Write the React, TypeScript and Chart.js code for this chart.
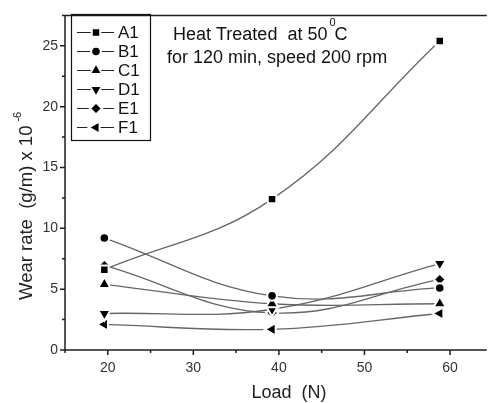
import React, { useEffect, useRef } from 'react';
import { Chart, registerables } from 'chart.js';
import { drawPoint } from 'chart.js/helpers';

Chart.register(...registerables);

// ---- data ----
const loads = [19.6, 39.2, 58.8];
const seriesNames = ['A1', 'B1', 'C1', 'D1', 'E1', 'F1'];
const A1 = [6.6, 12.4, 25.4];
const B1 = [9.2, 4.45, 5.1];
const C1 = [5.4, 3.8, 3.8];
const D1 = [3.0, 3.35, 7.1];
const E1 = [6.95, 3.05, 5.8];
const F1 = [2.1, 1.7, 3.0];
const seriesValues = [A1, B1, C1, D1, E1, F1];

const xTicks = [20, 30, 40, 50, 60];
const xMinorTicks = [15, 25, 35, 45, 55];
const yTicks = [0, 5, 10, 15, 20, 25];
const yMinorTicks = [2.5, 7.5, 12.5, 17.5, 22.5, 27.5];

const markers = [
  { pointStyle: 'rect', rotation: 0, radius: 5 },
  { pointStyle: 'circle', rotation: 0, radius: 3.8 },
  { pointStyle: 'triangle', rotation: 0, radius: 6.2 },
  { pointStyle: 'triangle', rotation: 180, radius: 6.2 },
  { pointStyle: 'rectRot', rotation: 0, radius: 5 },
  { pointStyle: 'triangle', rotation: 270, radius: 6.2 },
];

const FONT = '"Liberation Sans", Arial, sans-serif';
const LINE_COLOR = '#666';
const HALO = 2;

const framePlugin = {
  id: 'framePlugin',
  afterDraw(chart: any) {
    const { ctx, chartArea: a, scales } = chart;
    const xs = scales.x;
    const ys = scales.y;
    ctx.save();
    // frame & axes
    ctx.strokeStyle = '#1e1e1e';
    ctx.lineWidth = 1.5;
    ctx.beginPath();
    ctx.moveTo(a.left, a.top);
    ctx.lineTo(a.left, a.bottom);
    ctx.lineTo(a.right, a.bottom);
    ctx.moveTo(a.left, a.top);
    ctx.lineTo(a.right, a.top);
    xTicks.forEach((v) => {
      const px = xs.getPixelForValue(v);
      ctx.moveTo(px, a.bottom);
      ctx.lineTo(px, a.bottom + 5);
    });
    xMinorTicks.forEach((v) => {
      const px = xs.getPixelForValue(v);
      ctx.moveTo(px, a.bottom);
      ctx.lineTo(px, a.bottom + 3);
    });
    yTicks.forEach((v) => {
      const py = ys.getPixelForValue(v);
      ctx.moveTo(a.left, py);
      ctx.lineTo(a.left - 5, py);
    });
    yMinorTicks.forEach((v) => {
      const py = ys.getPixelForValue(v);
      ctx.moveTo(a.left, py);
      ctx.lineTo(a.left - 3, py);
    });
    ctx.stroke();

    // legend
    ctx.lineWidth = 1.2;
    ctx.strokeStyle = '#111';
    ctx.strokeRect(71.5, 14.5, 79, 126);
    seriesNames.forEach((name, i) => {
      const cy = 32.5 + i * 19;
      ctx.strokeStyle = '#222';
      ctx.lineWidth = 1.2;
      ctx.beginPath();
      ctx.moveTo(77, cy);
      ctx.lineTo(114, cy);
      ctx.stroke();
      const m = markers[i];
      ctx.fillStyle = '#000';
      ctx.strokeStyle = '#fff';
      ctx.lineWidth = HALO;
      drawPoint(ctx, { pointStyle: m.pointStyle, rotation: m.rotation, radius: m.radius + HALO / 2, borderWidth: HALO } as any, 96, cy);
      ctx.fillStyle = '#111';
      ctx.font = `17px ${FONT}`;
      ctx.textAlign = 'left';
      ctx.textBaseline = 'middle';
      ctx.fillText(name, 118, cy + 1);
    });

    // annotation
    ctx.fillStyle = '#111';
    ctx.textBaseline = 'alphabetic';
    ctx.textAlign = 'left';
    ctx.font = `18px ${FONT}`;
    const l1 = 'Heat Treated  at 50';
    ctx.fillText(l1, 173, 40);
    const w = ctx.measureText(l1).width;
    ctx.font = `11px ${FONT}`;
    ctx.fillText('0', 173 + w + 2, 26);
    const w0 = ctx.measureText('0').width;
    ctx.font = `18px ${FONT}`;
    ctx.fillText('C', 173 + w + 2 + w0 - 1, 40);
    ctx.fillText('for 120 min, speed 200 rpm', 167, 63);

    // x title
    ctx.font = `18px ${FONT}`;
    ctx.textAlign = 'center';
    ctx.fillStyle = '#222';
    ctx.fillText('Load  (N)', 289, 398);
    // y title
    ctx.translate(32, 300);
    ctx.rotate(-Math.PI / 2);
    ctx.textAlign = 'left';
    ctx.font = `18.5px ${FONT}`;
    const yt = 'Wear rate  (g/m) x 10';
    ctx.fillText(yt, 0, 0);
    const wy = ctx.measureText(yt).width;
    ctx.font = `11px ${FONT}`;
    ctx.fillText('-6', wy + 4, -11);
    ctx.restore();
  },
};

export default function App() {
  const ref = useRef<HTMLCanvasElement>(null);
  useEffect(() => {
    if (!ref.current) return;
    const datasets = seriesNames.map((name, i) => ({
      label: name,
      data: loads.map((x, j) => ({ x, y: seriesValues[i][j] })),
      borderColor: LINE_COLOR,
      borderWidth: 1.3,
      backgroundColor: '#000',
      tension: 0.4,
      pointStyle: markers[i].pointStyle as any,
      rotation: markers[i].rotation,
      pointRadius: markers[i].radius + HALO / 2,
      pointBackgroundColor: '#000',
      pointBorderColor: '#fff',
      pointBorderWidth: HALO,
      fill: false,
      clip: false as any,
    }));
    const chart = new Chart(ref.current, {
      type: 'line',
      data: { datasets },
      plugins: [framePlugin],
      options: {
        animation: false,
        responsive: false,
        devicePixelRatio: 1,
        layout: { padding: { top: 12, right: 0, left: 0, bottom: 0 } },
        plugins: { legend: { display: false }, tooltip: { enabled: false } },
        scales: {
          x: {
            type: 'linear',
            min: 15,
            max: 64.3,
            afterBuildTicks: (s: any) => {
              s.ticks = xTicks.map((v) => ({ value: v }));
            },
            afterFit: (s: any) => {
              s.height = 53;
            },
            grid: { display: false, drawTicks: false },
            border: { display: false },
            ticks: { color: '#333', font: { family: FONT, size: 14 }, padding: 10, maxRotation: 0 },
          },
          y: {
            type: 'linear',
            min: 0,
            max: 27.5,
            afterBuildTicks: (s: any) => {
              s.ticks = yTicks.map((v) => ({ value: v }));
            },
            afterFit: (s: any) => {
              s.width = 65;
            },
            grid: { display: false, drawTicks: false },
            border: { display: false },
            ticks: { color: '#333', font: { family: FONT, size: 14 }, padding: 7 },
          },
        },
      },
    });
    return () => chart.destroy();
  }, []);
  return (
    <div style={{ position: 'fixed', left: 0, top: 0, width: 496, height: 403, background: '#fff' }}>
      <canvas ref={ref} width={496} height={403} style={{ display: 'block' }} />
    </div>
  );
}
